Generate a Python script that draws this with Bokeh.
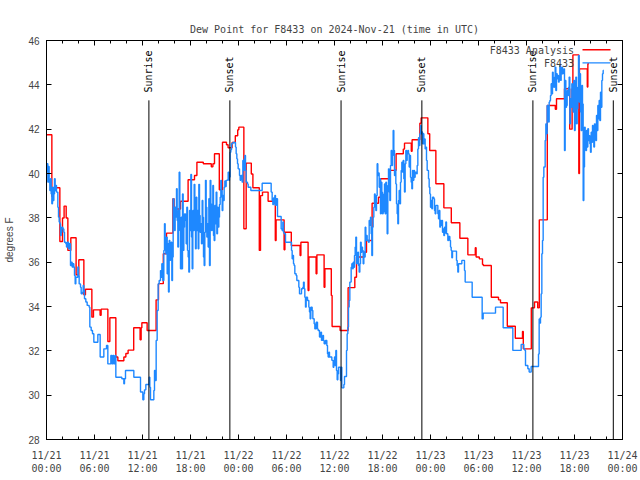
from math import pi
from bokeh.plotting import figure
from bokeh.models import FixedTicker, LinearAxis, Label, Arrow, Range1d
from bokeh.core.properties import value
from bokeh.embed import file_html
from bokeh.resources import INLINE

# ---------------- data (hours since 2024-11-21 00:00 UTC, degrees F) ----------------
red_hours = [0.0, 0.67, 0.8, 1.67, 2.0, 2.2, 2.46, 2.67, 3.04, 3.7,
             4.04, 4.67, 4.87, 5.67, 5.87, 6.7, 6.83, 7.67, 7.92, 8.67,
             8.92, 9.67, 9.92, 10.2, 10.9, 11.7, 11.83, 11.92, 12.58, 13.7,
             14.0, 14.6, 15.0, 15.8, 15.95, 16.75, 17.7, 18.5, 18.8, 19.6,
             20.6, 20.8, 21.0, 21.6, 22.0, 22.5, 22.7, 23.2, 23.6, 23.9,
             24.04, 24.67, 24.96, 25.6, 25.8, 26.6, 26.75, 27.0, 27.7, 28.6,
             28.7, 29.7, 29.8, 30.6, 31.7, 31.8, 32.7, 32.8, 33.7, 33.8,
             34.7, 34.8, 35.6, 35.7, 36.7, 37.7, 38.54, 38.75, 39.67, 40.0,
             40.7, 41.5, 41.75, 42.8, 43.7, 44.6, 44.75, 45.6, 45.7, 46.67,
             46.83, 47.67, 47.9, 48.67, 49.67, 50.6, 51.67, 52.67, 53.6, 53.7,
             54.1, 54.5, 54.6, 55.6, 56.5, 56.75, 57.6, 58.6, 59.5, 59.6,
             60.6, 61.0, 61.4, 61.6, 62.6, 63.6, 63.75, 64.75, 65.4, 65.7,
             65.8, 66.54, 66.62, 67.6, 67.67, 67.8]
red_dewpt = [41.75, 38.96, 39.36, 36.93, 37.99, 38.53, 37.99, 36.53, 37.10, 35.43,
             36.11, 34.53, 34.78, 33.52, 33.85, 33.60, 33.88, 32.42, 33.49, 31.72,
             31.55, 31.72, 31.88, 32.03, 33.04, 32.50, 33.04, 33.27, 32.92, 34.30,
             35.03, 36.38, 37.31, 38.86, 38.40, 38.75, 39.72, 39.91, 40.51, 40.44,
             40.30, 40.44, 40.89, 39.27, 41.41, 41.30, 41.16, 41.40, 41.70, 41.97,
             42.09, 37.51, 40.47, 39.98, 39.36, 36.53, 39.00, 39.16, 38.75, 36.98,
             37.91, 36.56, 37.35, 36.75, 36.30, 36.90, 34.72, 36.23, 35.48, 36.33,
             34.87, 35.70, 34.50, 33.10, 32.92, 34.85, 35.32, 36.23, 36.45, 36.98,
             38.66, 38.93, 39.76, 40.14, 40.89, 41.10, 41.37, 41.00, 41.52, 42.27,
             42.51, 41.79, 41.04, 39.54, 38.45, 37.78, 37.08, 36.33, 36.65, 36.23,
             36.15, 35.90, 35.85, 34.42, 34.30, 34.17, 33.11, 32.57, 32.87, 32.09,
             33.94, 34.20, 33.94, 37.91, 43.07, 42.90, 43.37, 43.82, 42.00, 43.82,
             45.35, 40.00, 44.72, 43.90, 44.95, 44.95]

blue_hours = [0.0, 0.083, 0.167, 0.25, 0.333, 0.417, 0.5, 0.583, 0.667, 0.75,
              0.833, 0.917, 1.0, 1.083, 1.167, 1.25, 1.417, 1.5, 1.583, 1.667,
              1.75, 1.833, 1.917, 2.042, 2.167, 2.25, 2.417, 2.5, 2.583, 2.75,
              2.875, 3.0, 3.083, 3.208, 3.333, 3.417, 3.5, 3.583, 3.667, 3.917,
              4.0, 4.083, 4.25, 4.333, 4.5, 4.583, 4.667, 4.75, 4.917, 5.083,
              5.333, 5.417, 5.583, 5.75, 5.917, 6.417, 6.708, 7.167, 7.5, 7.667,
              8.042, 8.167, 8.292, 8.417, 8.583, 8.667, 9.417, 9.667, 9.75, 9.875,
              10.917, 11.75, 12.042, 12.167, 12.25, 12.417, 12.833, 12.917, 13.0, 13.417,
              13.5, 13.583, 13.708, 13.833, 13.958, 14.083, 14.25, 14.333, 14.417, 14.542,
              14.667, 14.75, 14.833, 14.917, 15.0, 15.083, 15.167, 15.25, 15.333, 15.417,
              15.5, 15.583, 15.667, 15.75, 15.833, 15.917, 16.0, 16.083, 16.167, 16.25,
              16.333, 16.417, 16.5, 16.583, 16.667, 16.75, 16.833, 16.917, 17.0, 17.083,
              17.167, 17.25,
              17.375, 17.458, 17.542, 17.625, 17.708, 17.792, 17.875, 17.958, 18.042, 18.125,
              18.208, 18.292, 18.375, 18.458, 18.542, 18.625, 18.708, 18.792, 18.875, 18.958,
              19.042, 19.125, 19.208, 19.292, 19.375, 19.458, 19.542, 19.625, 19.708, 19.792,
              19.875, 19.958, 20.042, 20.125, 20.208, 20.292, 20.375, 20.458, 20.542, 20.625,
              20.708, 20.792, 20.875, 20.958, 21.042, 21.125, 21.208, 21.292, 21.375, 21.458,
              21.542, 21.625, 21.708, 21.792, 21.875, 21.958, 22.042, 22.125, 22.208, 22.292,
              22.375, 22.458, 22.625, 22.708, 22.792, 22.875, 22.958, 23.042, 23.125, 23.292,
              23.625, 23.708, 23.792, 23.875, 23.958, 24.125, 24.208, 24.292, 24.458, 24.542,
              24.625, 24.708, 24.792, 24.875, 24.958, 25.125, 25.208, 25.542, 26.958, 28.083,
              28.208, 28.292, 28.375, 28.458, 28.542, 28.625, 28.708, 28.875, 29.333, 29.458,
              29.542, 29.625, 29.708, 29.875, 30.625, 30.708, 30.792, 30.875, 30.958, 31.042,
              31.208, 31.292, 31.542, 31.625, 31.875, 32.042, 32.125, 32.208, 32.292, 32.375,
              32.458, 32.625, 32.792, 32.875, 32.958, 33.042, 33.208, 33.292, 33.458, 33.542,
              33.708, 33.875, 33.958, 34.125, 34.292, 34.375, 34.542, 34.625, 34.708, 34.875,
              35.042, 35.125, 35.208, 35.292, 35.375,
              35.667, 35.833, 35.917, 36.0, 36.083, 36.167, 36.25, 36.333, 36.417, 36.5,
              36.75, 36.833, 36.917, 37.167, 37.25, 37.5, 37.583, 37.667, 37.75, 37.833,
              37.917, 38.083, 38.167, 38.25, 38.333, 38.417, 38.5, 38.583, 38.667, 38.75,
              38.833, 38.917, 39.0, 39.083, 39.167, 39.25, 39.333, 39.417, 39.5, 39.583,
              39.667, 39.75, 39.833, 39.917, 40.0, 40.083, 40.25, 40.333, 40.417, 40.5,
              40.583, 40.667, 40.75, 40.833, 40.917, 41.0, 41.083, 41.167, 41.25, 41.333,
              41.417, 41.5, 41.583, 41.667, 41.75, 41.833, 41.917, 42.0, 42.083, 42.167,
              42.25, 42.333, 42.417, 42.5, 42.583, 42.667, 42.75, 42.833, 42.917, 43.0,
              43.083, 43.167, 43.25, 43.333, 43.417, 43.5, 43.583, 43.667, 43.75, 43.833,
              43.917, 44.0, 44.083, 44.167, 44.25, 44.333, 44.417, 44.5, 44.583, 44.667,
              44.75, 44.833, 44.917, 45.0, 45.083, 45.167, 45.25, 45.333, 45.417, 45.5,
              45.583, 45.667, 45.75, 45.833, 45.917, 46.0, 46.083, 46.25, 46.333, 46.417,
              46.5, 46.583, 46.667, 46.75, 46.833, 46.917, 47.0, 47.083, 47.167, 47.25,
              47.333, 47.417, 47.5, 47.583, 47.75, 47.833, 47.917, 48.0, 48.083, 48.167,
              48.25, 48.417, 48.5, 48.583, 48.667, 48.917, 49.0, 49.083, 49.167, 49.25,
              49.333, 49.417, 49.5, 49.583, 49.667, 49.75, 49.833, 49.917, 50.0, 50.167,
              50.25, 50.417, 50.5, 50.583, 50.667, 50.75, 51.25, 51.333, 51.417, 51.5,
              51.917, 52.25, 52.333,
              53.208, 54.458, 54.583, 56.125, 57.083, 58.292, 59.333, 59.667, 59.792, 59.875,
              60.167, 60.333, 60.583, 61.5, 61.583, 61.667, 61.75, 61.833, 61.917, 62.0,
              62.083, 62.167, 62.333, 62.417, 62.5, 62.583, 62.667, 62.75, 62.833, 62.917,
              63.0, 63.083, 63.167, 63.25, 63.333, 63.417, 63.5, 63.583, 63.667, 63.75,
              63.833, 63.917, 64.0, 64.083, 64.167, 64.25, 64.333, 64.417, 64.5, 64.583,
              64.667, 64.75, 64.833, 64.917, 65.0, 65.083, 65.167, 65.25, 65.333, 65.417,
              65.5, 65.583, 65.667, 65.75, 65.833, 65.917, 66.0, 66.083, 66.167, 66.25,
              66.333, 66.417, 66.5, 66.583, 66.667, 66.75, 66.833, 66.917, 67.0, 67.083,
              67.167, 67.25, 67.333, 67.417, 67.5, 67.583, 67.667, 67.75, 67.833, 67.917,
              68.0, 68.083, 68.167, 68.25, 68.333, 68.417, 68.5, 68.583, 68.667, 68.75,
              68.833, 68.917, 69.0, 69.083, 69.167, 69.25, 69.333, 69.417, 69.5, 69.583, 69.667]
blue_dewpt = [40.10, 40.44, 39.61, 40.32, 39.61, 39.23, 39.76, 39.08, 38.63, 39.38,
              38.78, 39.08, 39.76, 39.23, 39.46, 39.16, 38.48, 38.03, 37.81, 37.73,
              37.20, 37.35, 37.58, 37.50, 37.35, 36.90, 36.83, 36.68, 36.90, 36.60,
              36.83, 35.85, 36.00, 35.78, 35.93, 35.78, 35.40, 35.02, 35.32, 35.78,
              35.40, 35.02, 34.87, 34.57, 34.65, 34.95, 34.72, 34.35, 34.20, 34.05,
              33.97, 33.07, 32.92, 32.77, 32.39, 32.74, 31.72, 32.09, 32.24, 31.41,
              31.79, 31.41, 31.79, 31.41, 31.79, 30.81, 30.74, 30.51, 30.74, 31.11,
              30.81, 30.14, 29.79, 30.06, 30.24, 30.48, 30.81, 30.36, 29.79, 30.21,
              31.11, 30.66, 32.47, 33.82, 35.02, 35.17, 35.62, 35.32, 35.93, 35.17,
              36.53, 37.73, 36.83, 36.38, 37.13, 35.48, 36.83, 34.65, 36.98, 36.08,
              36.38, 36.90, 35.17, 36.23, 38.86, 38.33, 37.43, 38.48, 38.03, 39.31,
              37.88, 36.68, 38.33, 40.06, 37.43, 35.70, 38.03, 35.70, 39.08, 36.53,
              37.58, 38.18,
              37.88, 36.83, 38.48, 36.53, 36.23, 35.55, 38.33, 37.43, 39.96, 37.13,
              35.70, 38.33, 37.43, 39.51, 38.03, 36.60, 38.93, 37.43, 38.33, 36.60,
              39.51, 38.11, 37.35, 37.73, 36.83, 38.78, 38.03, 36.23, 35.85, 37.35,
              39.69, 38.48, 37.13, 37.73, 36.68, 38.86, 35.85, 39.69, 38.63, 37.43,
              38.33, 39.46, 37.20, 36.98, 38.56, 37.73, 39.16, 37.28, 38.48, 37.58,
              38.03, 38.60, 38.93, 39.69, 39.23, 38.33, 39.01, 38.78, 39.38, 39.66,
              39.41, 39.69, 39.72, 40.06, 39.69, 39.84, 40.96, 41.07, 41.34, 41.40,
              41.19, 40.89, 40.66, 40.44, 40.21, 39.91, 39.69, 39.91, 39.61, 40.59,
              40.14, 40.66, 40.81, 40.14, 39.61, 39.53, 39.38, 39.23, 39.56, 39.16,
              38.78, 38.60, 38.90, 38.63, 39.01, 38.56, 38.86, 38.06, 37.50, 37.43,
              37.81, 37.35, 37.28, 36.90, 36.53, 36.15, 36.30, 35.93, 35.85, 35.48,
              35.40, 35.17, 34.87, 34.57, 34.80, 34.87, 35.10, 34.80, 34.42, 33.97,
              34.42, 34.27, 33.97, 33.75, 33.45, 33.97, 33.82, 33.45, 33.22, 32.99,
              33.29, 32.99, 32.92, 32.62, 32.84, 32.47, 32.69, 32.47, 32.32, 32.47,
              32.24, 31.87, 31.72, 31.94, 31.72,
              31.57, 31.26, 31.41, 31.72, 31.34, 32.02, 31.11, 30.69, 30.96, 31.26,
              30.66, 31.26, 30.33, 30.48, 30.84, 32.02, 32.77, 33.07, 33.97, 34.27,
              35.10, 35.77, 35.93, 35.70, 36.00, 35.77, 36.30, 36.68, 37.13, 35.93,
              36.30, 36.45, 35.85, 35.55, 35.93, 36.90, 36.45, 36.68, 36.53, 35.93,
              36.45, 36.23, 37.58, 36.98, 37.20, 36.98, 36.90, 37.88, 37.66, 38.03,
              37.28, 36.30, 37.58, 38.03, 38.48, 39.08, 38.86, 38.33, 39.01, 40.44,
              39.91, 40.02, 39.38, 39.76, 38.18, 39.61, 39.16, 38.18, 38.26, 39.08,
              39.53, 38.18, 39.61, 39.38, 37.28, 39.46, 40.21, 39.16, 38.78, 40.36,
              41.04, 40.36, 40.81, 41.94, 41.04, 39.91, 40.17, 39.53, 38.63, 38.18,
              37.73, 38.78, 39.23, 38.63, 39.61, 40.14, 40.51, 40.06, 40.59, 39.76,
              39.16, 40.44, 41.04, 40.59, 40.89, 41.04, 40.89, 40.29, 40.81, 39.83,
              39.61, 39.31, 40.14, 39.69, 40.14, 39.83, 40.06, 39.99, 40.36, 41.11,
              41.61, 41.26, 41.79, 42.17, 41.79, 41.87, 41.34, 41.79, 41.34, 41.56,
              41.11, 41.19, 40.59, 40.14, 39.76, 39.38, 39.08, 38.48, 38.78, 38.41,
              38.93, 38.86, 38.33, 38.18, 38.56, 38.18, 37.96, 38.33, 37.58, 37.88,
              37.66, 37.88, 37.35, 37.50, 37.20, 37.58, 37.31, 37.81, 37.28, 36.98,
              37.16, 36.98, 36.68, 36.53, 36.20, 36.50, 36.08, 35.85, 35.55, 35.93,
              36.08, 35.62, 35.10,
              34.42, 33.44, 33.70, 33.97, 33.04, 32.02, 32.29, 32.09, 32.02, 31.34,
              31.19, 31.04, 31.29, 31.86, 33.44, 33.25, 33.52, 34.57, 36.38, 36.98,
              39.83, 40.29, 41.49, 42.24, 41.79, 43.07, 42.77, 42.32, 43.22, 43.29,
              43.52, 44.05, 43.59, 44.57, 44.05, 43.89, 44.35, 44.80, 43.74, 44.50,
              44.27, 44.42, 44.12, 44.35, 44.87, 44.20, 44.50, 44.80, 44.50, 44.68,
              44.72, 41.04, 44.20, 42.99, 43.07, 43.74, 43.52, 43.89, 44.35, 42.24,
              43.37, 42.99, 44.05, 43.59, 42.77, 44.20, 41.94, 43.29, 44.35, 42.24,
              42.92, 43.89, 45.32, 43.22, 44.50, 42.77, 41.94, 43.97, 43.14, 38.78,
              40.29, 42.09, 41.49, 41.04, 41.94, 41.19, 42.02, 41.49, 41.71, 41.34,
              40.96, 41.86, 41.41, 42.17, 41.64, 41.19, 42.24, 41.79, 41.49, 42.62,
              41.94, 43.07, 42.47, 43.29, 42.39, 43.67, 42.99, 44.20, 44.50, 44.65, 44.65]

event_hours = [12.80, 22.92, 36.82, 46.92, 60.80, 70.85]
event_names = ["Sunrise", "Sunset", "Sunrise", "Sunset", "Sunrise", "Sunset"]

x_tick_hours = [0, 6, 12, 18, 24, 30, 36, 42, 48, 54, 60, 66, 72]
x_tick_labels = ["11/21\n00:00", "11/21\n06:00", "11/21\n12:00", "11/21\n18:00",
                 "11/22\n00:00", "11/22\n06:00", "11/22\n12:00", "11/22\n18:00",
                 "11/23\n00:00", "11/23\n06:00", "11/23\n12:00", "11/23\n18:00",
                 "11/24\n00:00"]
x_minor_hours = list(range(0, 73, 2))
y_ticks = [28, 30, 32, 34, 36, 38, 40, 42, 44, 46]

assert len(red_hours) == len(red_dewpt)
assert len(blue_hours) == len(blue_dewpt)

MONO = "DejaVu Sans Mono"
SANS = "Liberation Sans"
RED = "#ff0000"
BLUE = "#1e88ff"

p = figure(width=638, height=478, x_range=Range1d(0, 72), y_range=Range1d(28, 46),
           output_backend="svg", toolbar_location=None,
           min_border_left=46, min_border_right=16, min_border_top=40, min_border_bottom=39,
           title="Dew Point for F8433 on 2024-Nov-21 (time in UTC)")
p.grid.grid_line_color = None
p.outline_line_color = "black"
p.outline_line_alpha = 1.0
p.outline_line_width = 1
p.background_fill_color = "white"
p.border_fill_color = "white"

p.title.text_font = MONO
p.title.text_font_size = "10px"
p.title.text_font_style = "normal"
p.title.align = "center"
p.title.vertical_align = "top"
p.title.standoff = 8

xt = FixedTicker(ticks=x_tick_hours, minor_ticks=x_minor_hours)
yt = FixedTicker(ticks=y_ticks, minor_ticks=[])


def style_axis(ax):
    ax.axis_line_color = "black"
    ax.major_tick_line_color = "black"
    ax.minor_tick_line_color = "black"
    ax.major_tick_in = 5
    ax.major_tick_out = 0
    ax.minor_tick_in = 3
    ax.minor_tick_out = 0


xb = p.xaxis[0]
xb.ticker = xt
xb.major_label_overrides = dict(zip(x_tick_hours, x_tick_labels))
xb.major_label_text_font = MONO
xb.major_label_text_font_size = "10px"
xb.major_label_standoff = 10
style_axis(xb)

yl = p.yaxis[0]
yl.ticker = yt
yl.axis_label = "degrees F"
yl.axis_label_text_font = SANS
yl.axis_label_text_font_size = "10px"
yl.axis_label_text_font_style = "normal"
yl.axis_label_standoff = 10
yl.major_label_text_font = SANS
yl.major_label_text_font_size = "10px"
yl.major_label_standoff = 7
style_axis(yl)

# mirrored top axis (ticks only)
xtop = LinearAxis(ticker=xt, major_label_overrides={t: "" for t in x_tick_hours})
style_axis(xtop)
p.add_layout(xtop, "above")

yright = LinearAxis(ticker=yt, major_label_overrides={t: "" for t in y_ticks})
style_axis(yright)
p.add_layout(yright, "right")

# data series
p.step(red_hours, red_dewpt, mode="after", line_color=RED, line_width=1.4)
p.step(blue_hours, blue_dewpt, mode="after", line_color=BLUE, line_width=1.4)

# sunrise / sunset markers
p.segment(x0=event_hours, y0=43.3, x1=event_hours, y1=28, line_color="black", line_width=1)
p.text(x=event_hours, y=43.65, text=event_names, angle=pi / 2,
       text_align="left", text_baseline="middle",
       text_font=value(MONO), text_font_size="10px", text_color="black")

# key (label left of sample line, gnuplot style)
p.add_layout(Label(x=65.94, y=45.55, text="F8433 Analysis", text_align="right",
                   text_baseline="middle", text_font=MONO, text_font_size="10px"))
p.add_layout(Label(x=65.94, y=44.98, text="F8433", text_align="right",
                   text_baseline="middle", text_font=MONO, text_font_size="10px"))
p.add_layout(Arrow(end=None, x_start=67.0, y_start=45.58, x_end=70.5, y_end=45.58,
                   line_color=RED, line_width=1.4))
p.add_layout(Arrow(end=None, x_start=67.0, y_start=44.99, x_end=70.5, y_end=44.99,
                   line_color=BLUE, line_width=1.4))

open("out.html", "w").write(file_html(p, INLINE))
